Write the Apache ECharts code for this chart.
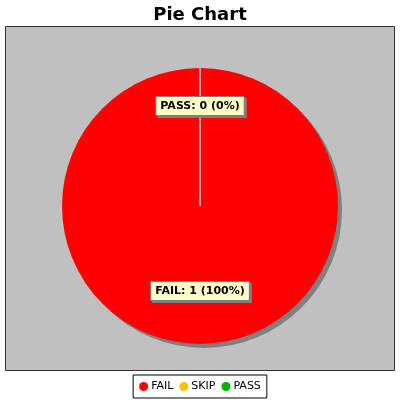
<!DOCTYPE html>
<html>
<head>
<meta charset="utf-8">
<script src="https://cdn.jsdelivr.net/npm/echarts@6/dist/echarts.min.js"></script>
<style>
  html, body { margin: 0; padding: 0; background: #fff; }
  #chart { width: 400px; height: 400px; }
</style>
</head>
<body>
<div id="chart"></div>
<script>
  // test results
  var categories = ['FAIL', 'SKIP', 'PASS']
  var counts = [1, 0, 0]
  var colors = ['#ff0000', '#f5c000', '#00b000']

  var chart = echarts.init(document.getElementById('chart'))

  var total = counts.reduce(function (a, b) { return a + b }, 0)
  var data = categories.map(function (name, i) {
    var zero = counts[i] === 0
    return {
      name: name,
      value: counts[i],
      itemStyle: zero ? {
        borderColor: '#b4b4b4', borderWidth: 1, shadowColor: 'rgba(0,0,0,0)'
      } : {},
      label: { show: name !== 'SKIP' }
    }
  })

  var option = {
    backgroundColor: '#ffffff',
    title: {
      text: 'Pie Chart',
      left: 'center',
      top: 1,
      textStyle: {
        fontFamily: 'DejaVu Sans',
        fontWeight: 'bold',
        fontSize: 18,
        color: '#000'
      }
    },
    graphic: [{
      type: 'rect',
      z: -10,
      shape: { x: 5.5, y: 26.5, width: 389, height: 344 },
      style: { fill: '#c0c0c0', stroke: '#333333', lineWidth: 1 }
    }],
    legend: {
      data: categories,
      bottom: 2,
      left: 'center',
      icon: 'circle',
      itemWidth: 9,
      itemHeight: 9,
      itemGap: 6,
      padding: [6, 6],
      borderColor: '#000',
      borderWidth: 1,
      backgroundColor: '#fff',
      itemStyle: { borderWidth: 0, shadowColor: 'rgba(0,0,0,0)' },
      textStyle: { fontFamily: 'DejaVu Sans', fontSize: 11, color: '#000', padding: [0, 0, 0, -2] }
    },
    color: colors,
    series: [{
      type: 'pie',
      center: ['50%', 206],
      radius: 138,
      startAngle: 90,
      clockwise: true,
      animation: false,
      silent: true,
      itemStyle: {
        shadowColor: '#808080',
        shadowOffsetX: 4,
        shadowOffsetY: 4,
        shadowBlur: 0
      },
      label: {
        position: 'inside',
        formatter: function (p) {
          var pct = total ? Math.round(p.value / total * 100) : 0
          return p.name + ': ' + p.value + ' (' + pct + '%)'
        },
        fontFamily: 'DejaVu Sans',
        fontWeight: 'bold',
        fontSize: 11,
        color: '#000',
        backgroundColor: '#ffffc8',
        borderColor: '#808080',
        borderWidth: 1,
        padding: [4, 4, 3, 4],
        shadowColor: '#808080',
        shadowOffsetX: 2,
        shadowOffsetY: 2,
        shadowBlur: 0
      },
      labelLayout: function (p) {
        return { dy: p.dataIndex === 0 ? 13 : -28 }
      },
      emphasis: { disabled: true },
      data: data
    }]
  }
  chart.setOption(option)
</script>
</body>
</html>
